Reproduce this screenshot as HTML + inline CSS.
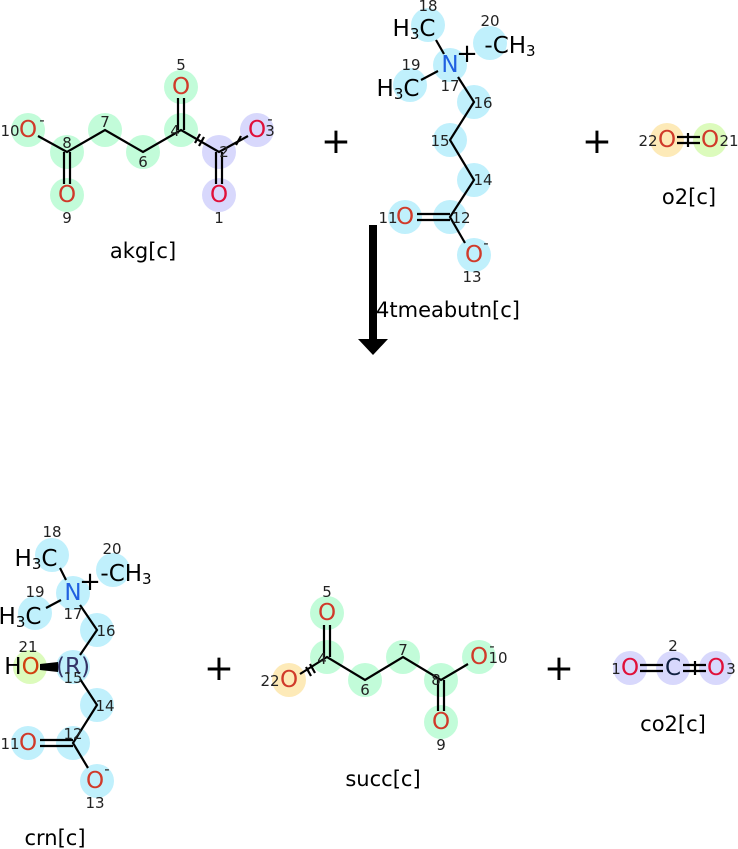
<!DOCTYPE html>
<html><head><meta charset="utf-8"><style>
html,body{margin:0;padding:0;background:#fff}
svg{display:block}
text{font-family:"DejaVu Sans","Liberation Sans",sans-serif}
.a{font-size:23px;text-anchor:middle;dominant-baseline:central}
.o{fill:#d03a2a}
.i{font-size:15px;fill:#222;text-anchor:middle;dominant-baseline:central}
.l{font-size:21px;text-anchor:middle;fill:#000}
.b{stroke:#000;stroke-width:2.2;fill:none}
.g{fill:#c2fcd9}.p{fill:#d8d8fc}.c{fill:#c0f0fc}.y{fill:#fdeab8}.m{fill:#dcfbbc}
.pl{font-size:36px;text-anchor:middle}
</style></head><body>
<svg width="738" height="849" viewBox="0 0 738 849">
<!-- akg -->
<g>
<circle class="g" cx="28" cy="130" r="17"/><circle class="g" cx="67" cy="152" r="17"/><circle class="g" cx="105" cy="130" r="17"/><circle class="g" cx="143" cy="152" r="17"/><circle class="g" cx="181" cy="130" r="17"/><circle class="g" cx="181" cy="87" r="17"/><circle class="g" cx="67" cy="195" r="17"/>
<circle class="p" cx="219" cy="152" r="17"/><circle class="p" cx="257" cy="130" r="17"/><circle class="p" cx="219" cy="195" r="17"/>
<polyline class="b" points="38,136 67,152 105,130 143,152 181,130 219,152 248,136"/>
<line class="b" x1="64" y1="152" x2="64" y2="184"/><line class="b" x1="70" y1="152" x2="70" y2="184"/>
<line class="b" x1="178" y1="130" x2="178" y2="98"/><line class="b" x1="184" y1="130" x2="184" y2="98"/>
<line class="b" x1="216" y1="152" x2="216" y2="184"/><line class="b" x1="222" y1="152" x2="222" y2="184"/>
<line class="b" x1="195" y1="143" x2="200" y2="134"/><line class="b" x1="199" y1="146" x2="204" y2="137"/>
<line class="b" x1="236" y1="145" x2="241" y2="136"/>
<text class="a o" x="28" y="130">O</text><text class="a o" x="181" y="87">O</text><text class="a o" x="67" y="195">O</text>
<text class="a" x="257" y="130" fill="#e0103a">O</text><text class="a" x="219" y="195" fill="#e0103a">O</text>
<text class="i" x="10" y="131">10</text><text class="i" x="42" y="120" font-size="20">-</text><text class="i" x="67" y="143">8</text><text class="i" x="105" y="122">7</text><text class="i" x="143" y="162">6</text><text class="i" x="175" y="131">4</text><text class="i" x="181" y="65">5</text><text class="i" x="224" y="152">2</text><text class="i" x="270" y="131">3</text><text class="i" x="270" y="119" font-size="20">-</text><text class="i" x="67" y="218">9</text><text class="i" x="219" y="218">1</text>
<text class="l" x="143" y="258">akg[c]</text>
</g>
<text class="pl" x="336" y="153">+</text>
<!-- 4tmeabutn -->
<g>
<circle class="c" cx="428" cy="25" r="17"/><circle class="c" cx="490" cy="43" r="17"/><circle class="c" cx="410" cy="85" r="17"/><circle class="c" cx="450" cy="65" r="17"/><circle class="c" cx="474" cy="102" r="17"/><circle class="c" cx="450" cy="140" r="17"/><circle class="c" cx="474" cy="180" r="17"/><circle class="c" cx="450" cy="217" r="17"/><circle class="c" cx="405" cy="217" r="17"/><circle class="c" cx="474" cy="255" r="17"/>
<line class="b" x1="436" y1="40" x2="444" y2="54"/><line class="b" x1="438" y1="71" x2="421" y2="80"/>
<polyline class="b" points="458,77 474,102 450,140 474,180 450,217 465,243"/>
<line class="b" x1="417" y1="214" x2="450" y2="214"/><line class="b" x1="417" y1="220" x2="450" y2="220"/>
<text class="a" x="414" y="29">H<tspan font-size="15" dy="5">3</tspan><tspan dy="-5">C</tspan></text>
<text class="a" x="510" y="46">-CH<tspan font-size="15" dy="5">3</tspan></text>
<text class="a" x="398" y="89">H<tspan font-size="15" dy="5">3</tspan><tspan dy="-5">C</tspan></text>
<text class="a" x="450" y="65" fill="#2060e0">N</text><text x="467" y="62" font-size="26" text-anchor="middle">+</text>
<text class="a o" x="405" y="217">O</text><text class="a o" x="474" y="255" fill="#c8303a">O</text>
<text class="i" x="428" y="6">18</text><text class="i" x="490" y="21">20</text><text class="i" x="411" y="65">19</text><text class="i" x="450" y="86">17</text><text class="i" x="483" y="103">16</text><text class="i" x="440" y="141">15</text><text class="i" x="483" y="180">14</text><text class="i" x="461" y="218">12</text><text class="i" x="388" y="218">11</text><text class="i" x="472" y="277">13</text><text class="i" x="486" y="243" font-size="20">-</text>
<text class="l" x="448" y="317">4tmeabutn[c]</text>
</g>
<text class="pl" x="597" y="153">+</text>
<!-- o2 -->
<circle class="y" cx="667" cy="140" r="17"/><circle class="m" cx="710" cy="140" r="17"/>
<line class="b" x1="677" y1="137" x2="700" y2="137"/><line class="b" x1="677" y1="143" x2="700" y2="143"/><line class="b" x1="688" y1="133" x2="688" y2="147"/>
<text class="a o" x="667" y="140" fill="#e0402a">O</text><text class="a o" x="710" y="140">O</text>
<text class="i" x="648" y="141">22</text><text class="i" x="729" y="141">21</text>
<text class="l" x="689" y="204">o2[c]</text>
<!-- arrow -->
<rect x="369" y="225" width="8" height="115" fill="#000"/>
<polygon points="358,339 388,339 373,355" fill="#000"/>
<!-- crn -->
<g>
<circle class="c" cx="52" cy="555" r="17"/><circle class="c" cx="113" cy="570" r="17"/><circle class="c" cx="35" cy="613" r="17"/><circle class="c" cx="73" cy="593" r="17"/><circle class="c" cx="97" cy="630" r="17"/><circle class="c" cx="73" cy="667" r="17"/><circle class="m" cx="30" cy="667" r="17"/><circle class="c" cx="97" cy="705" r="17"/><circle class="c" cx="73" cy="743" r="17"/><circle class="c" cx="28" cy="743" r="17"/><circle class="c" cx="97" cy="781" r="17"/>
<line class="b" x1="60" y1="568" x2="66" y2="580"/><line class="b" x1="61" y1="600" x2="46" y2="608"/>
<polyline class="b" points="80,605 97,630 80,655"/><polyline class="b" points="80,679 97,705 73,743 88,768"/>
<line class="b" x1="40" y1="740" x2="73" y2="740"/><line class="b" x1="40" y1="746" x2="73" y2="746"/>
<polygon points="40,664 58,662 58,672 40,670" fill="#000"/>
<text class="a" x="36" y="559">H<tspan font-size="15" dy="5">3</tspan><tspan dy="-5">C</tspan></text>
<text class="a" x="126" y="574">-CH<tspan font-size="15" dy="5">3</tspan></text>
<text class="a" x="20" y="617">H<tspan font-size="15" dy="5">3</tspan><tspan dy="-5">C</tspan></text>
<text class="a" x="73" y="593" fill="#2060e0">N</text><text x="90" y="590" font-size="26" text-anchor="middle">+</text>
<text class="a" x="22" y="667">H<tspan fill="#d04010">O</tspan></text>
<text class="a" x="73" y="667" fill="#336" font-size="19">(R)</text>
<text class="a o" x="28" y="743" fill="#c8303a">O</text><text class="a o" x="95" y="781" fill="#c8303a">O</text>
<text class="i" x="52" y="532">18</text><text class="i" x="112" y="549">20</text><text class="i" x="35" y="592">19</text><text class="i" x="73" y="614">17</text><text class="i" x="106" y="631">16</text><text class="i" x="73" y="678">15</text><text class="i" x="28" y="647">21</text><text class="i" x="105" y="706">14</text><text class="i" x="73" y="734">12</text><text class="i" x="10" y="744">11</text><text class="i" x="95" y="803">13</text><text class="i" x="107" y="769" font-size="20">-</text>
<text class="l" x="55" y="845">crn[c]</text>
</g>
<text class="pl" x="219" y="680">+</text>
<!-- succ -->
<g>
<circle class="y" cx="289" cy="680" r="17"/>
<circle class="g" cx="327" cy="657" r="17"/><circle class="g" cx="327" cy="613" r="17"/><circle class="g" cx="365" cy="680" r="17"/><circle class="g" cx="403" cy="657" r="17"/><circle class="g" cx="441" cy="680" r="17"/><circle class="g" cx="479" cy="657" r="17"/><circle class="g" cx="441" cy="722" r="17"/>
<polyline class="b" points="300,674 327,657 365,680 403,657 441,680 468,664"/>
<line class="b" x1="324" y1="657" x2="324" y2="625"/><line class="b" x1="330" y1="657" x2="330" y2="625"/>
<line class="b" x1="438" y1="680" x2="438" y2="711"/><line class="b" x1="444" y1="680" x2="444" y2="711"/>
<line class="b" x1="306" y1="667" x2="311" y2="676"/><line class="b" x1="310" y1="664" x2="315" y2="673"/>
<text class="a o" x="289" y="680" fill="#f03010">O</text><text class="a o" x="327" y="613">O</text><text class="a o" x="479" y="657">O</text><text class="a o" x="441" y="722">O</text>
<text class="i" x="327" y="592">5</text><text class="i" x="322" y="659">4</text><text class="i" x="365" y="690">6</text><text class="i" x="403" y="650">7</text><text class="i" x="436" y="680">8</text><text class="i" x="270" y="681">22</text><text class="i" x="498" y="658">10</text><text class="i" x="492" y="646" font-size="20">-</text><text class="i" x="441" y="745">9</text>
<text class="l" x="383" y="786">succ[c]</text>
</g>
<text class="pl" x="559" y="680">+</text>
<!-- co2 -->
<circle class="p" cx="630" cy="668" r="17"/><circle class="p" cx="673" cy="668" r="17"/><circle class="p" cx="716" cy="668" r="17"/>
<line class="b" x1="640" y1="665" x2="663" y2="665"/><line class="b" x1="640" y1="671" x2="663" y2="671"/>
<line class="b" x1="683" y1="665" x2="706" y2="665"/><line class="b" x1="683" y1="671" x2="706" y2="671"/><line class="b" x1="695" y1="661" x2="695" y2="675"/>
<text class="a" x="630" y="668" fill="#e0103a">O</text><text class="a" x="673" y="668" fill="#102040">C</text><text class="a" x="716" y="668" fill="#e0103a">O</text>
<text class="i" x="616" y="669">1</text><text class="i" x="673" y="646">2</text><text class="i" x="731" y="669">3</text>
<text class="l" x="673" y="731">co2[c]</text>
</svg>
</body></html>
